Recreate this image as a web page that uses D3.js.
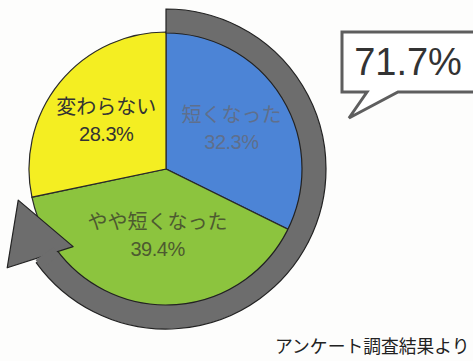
<!DOCTYPE html>
<html>
<head>
<meta charset="utf-8">
<script src="https://cdn.jsdelivr.net/npm/d3@7"></script>
<style>
  html, body { margin: 0; padding: 0; background: #fdfdfc; overflow: hidden; }
  svg { display: block; }
</style>
</head>
<body>
<div id="chart"></div>
<script>
// answers, in drawing order (clockwise from 12 o'clock)
var categories = ["短くなった", "やや短くなった", "変わらない"];
var values = [32.3, 39.4, 28.3];
var sliceColors = ["#4c84d6", "#8cc43e", "#f4ee22"];
var labelColors = ["#5f6f8c", "#4d5a30", "#333333"];
var sourceNote = "アンケート調査結果より";

var width = 473, height = 361;
var cx = 166, cy = 169;
var radius = 137;
var font = "'Liberation Sans', 'Noto Sans CJK JP', sans-serif";

/**
 * Appends the svg to the chart div
 */
function appendSVG(id) {
    return d3.select("#" + id)
        .append("svg")
        .attr("width", width)
        .attr("height", height);
}

// point on a circle, d3 angle convention (0 = top, clockwise)
function polar(r, a) {
    return [cx + r * Math.sin(a), cy - r * Math.cos(a)];
}

function drawPie(svg) {
    var pie = d3.pie().sort(null).value(function (d) { return d; });
    var arcs = pie(values);
    var arc = d3.arc().innerRadius(0).outerRadius(radius);

    var g = svg.append("g").attr("transform", "translate(" + cx + "," + cy + ")");
    g.selectAll("path")
        .data(arcs)
        .enter().append("path")
        .attr("d", arc)
        .attr("fill", function (d, i) { return sliceColors[i]; })
        .attr("stroke", "#2a2a2a")
        .attr("stroke-width", 1.2);
    return arcs;
}

function drawRingArrow(svg) {
    // the grey arrow wraps the first two answers
    var end = (values[0] + values[1]) / d3.sum(values) * 2 * Math.PI;
    var deg = Math.PI / 180;
    var ringEnd = end - 24 * deg;

    var ring = d3.arc()
        .innerRadius(radius - 1)
        .outerRadius(160)
        .startAngle(0)
        .endAngle(ringEnd);

    svg.append("path")
        .attr("transform", "translate(" + cx + "," + cy + ")")
        .attr("d", ring())
        .attr("fill", "#6d6d6d")
        .attr("stroke", "#222")
        .attr("stroke-width", 1.2);

    var head = [polar(121, end - 28 * deg), polar(187, end - 20 * deg), polar(151, end)];
    svg.append("path")
        .attr("d", "M" + head.join("L") + "Z")
        .attr("fill", "#6d6d6d")
        .attr("stroke", "#222")
        .attr("stroke-width", 1.2)
        .attr("stroke-linejoin", "round");

    // cover the seam between ring and head
    var seam = d3.arc()
        .innerRadius(radius)
        .outerRadius(159)
        .startAngle(ringEnd - 3 * deg)
        .endAngle(ringEnd + 1 * deg);
    svg.append("path")
        .attr("transform", "translate(" + cx + "," + cy + ")")
        .attr("d", seam())
        .attr("fill", "#6d6d6d");
}

function drawLabels(svg, arcs) {
    arcs.forEach(function (d, i) {
        var r = i === 1 ? 67 : 77;
        var p = polar(r, (d.startAngle + d.endAngle) / 2);
        var t = svg.append("text")
            .attr("x", p[0])
            .attr("text-anchor", "middle")
            .style("font-family", font)
            .style("font-size", "20px")
            .attr("fill", labelColors[i]);
        t.append("tspan").attr("x", p[0]).attr("y", p[1] - 13)
            .attr("dominant-baseline", "central").text(categories[i]);
        t.append("tspan").attr("x", p[0]).attr("y", p[1] + 13.5)
            .attr("dominant-baseline", "central").style("letter-spacing", "-0.5px")
            .text(d3.format(".1f")(values[i]) + "%");
    });
}

function drawCallout(svg) {
    var total = values[0] + values[1];
    svg.append("path")
        .attr("d", "M342,32 L480,32 L480,92 L398,92 L349,118 L367,92 L342,92 Z")
        .attr("fill", "#ffffff")
        .attr("stroke", "#5e5e5e")
        .attr("stroke-width", 3)
        .attr("stroke-linejoin", "miter");

    svg.append("text")
        .attr("x", 408)
        .attr("y", 75)
        .attr("text-anchor", "middle")
        .style("font-family", font)
        .style("font-size", "38px")
        .attr("fill", "#333")
        .text(d3.format(".1f")(total) + "%");
}

function drawSource(svg) {
    svg.append("text")
        .attr("x", 275)
        .attr("y", 353)
        .style("font-family", font)
        .style("font-size", "17.8px")
        .attr("fill", "#222")
        .text(sourceNote);
}

var svg = appendSVG("chart");
var arcs = drawPie(svg);
drawRingArrow(svg);
drawLabels(svg, arcs);
drawCallout(svg);
drawSource(svg);
</script>
</body>
</html>
